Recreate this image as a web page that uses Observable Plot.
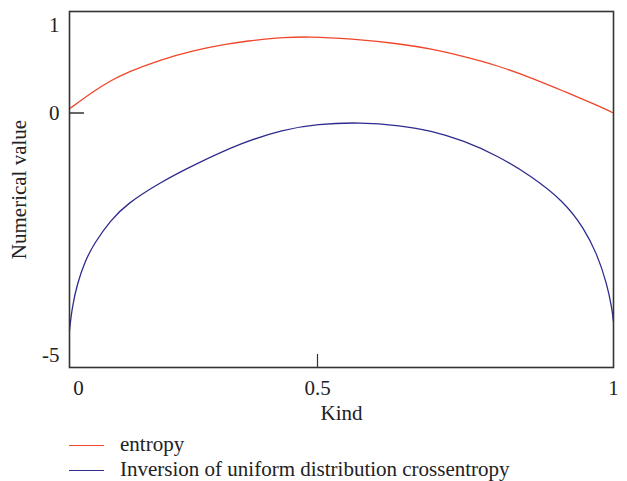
<!DOCTYPE html>
<html><head><meta charset="utf-8">
<script src="https://cdn.jsdelivr.net/npm/d3@7"></script>
<script src="https://cdn.jsdelivr.net/npm/@observablehq/plot@0.6"></script>
<style>
html,body{margin:0;background:#fff;font-family:"Liberation Serif",serif;color:#222;overflow:hidden}
#legend{padding-left:69px;padding-top:1px}
.row{display:flex;align-items:center;height:25px;line-height:25px;font-size:21px;white-space:nowrap}
.row .tx{position:relative;top:-1.5px}
.sw{width:35px;height:0;border-top:1.4px solid;margin-right:16px}
</style></head><body>
<div id="chart"></div>
<div id="legend"></div>
<script>
// Series 1: entropy
const entropyKind = [0, 0.049, 0.083, 0.116, 0.183, 0.25, 0.318, 0.365, 0.385, 0.431, 0.48, 0.556, 0.64, 0.691, 0.747, 0.804, 0.86, 0.916, 0.972, 1];
const entropyValue = [0.048, 0.25, 0.369, 0.465, 0.609, 0.715, 0.792, 0.826, 0.840, 0.862, 0.874, 0.850, 0.791, 0.734, 0.646, 0.543, 0.405, 0.25, 0.088, 0];
// Series 2: inversion of uniform distribution crossentropy
const crossKind = [0, 0.0054, 0.0155, 0.032, 0.049, 0.083, 0.116, 0.183, 0.251, 0.345, 0.431, 0.499, 0.573, 0.64, 0.691, 0.747, 0.804, 0.86, 0.916, 0.95, 0.972, 0.989, 0.998, 1];
const crossValue = [-4.48, -4.0, -3.52, -3.04, -2.70, -2.21, -1.87, -1.43, -1.07, -0.62, -0.34, -0.227, -0.19, -0.26, -0.36, -0.57, -0.88, -1.29, -1.82, -2.37, -2.90, -3.52, -4.07, -4.31];
const seriesNames = ["entropy", "Inversion of uniform distribution crossentropy"];
const xTickValues = [0, 0.5, 1];
const yTickValues = [1, 0, -5];

const seriesColors = ["#f0462a", "#2e2b8e"];

const entropyData = entropyKind.map((k, i) => ({kind: k, value: entropyValue[i]}));
const crossData = crossKind.map((k, i) => ({kind: k, value: crossValue[i]}));

// The original axes are piecewise: the left half (0..0.5) is narrower than the right half,
// and the negative part of the y axis is compressed relative to the positive part.
const xT = v => v <= 0.5 ? v / 0.5 * (248 / 544) : 248 / 544 + (v - 0.5) / 0.5 * (296 / 544);
const yT = v => v >= 0 ? v : v * (48.5 / 87.5);

const W = 627, H = 432;
const frameLeft = 69, frameRight = 613, frameTop = 11, frameBottom = 367;
const fmt = d => String(d);

const chart = Plot.plot({
  width: W, height: H,
  marginLeft: frameLeft, marginRight: W - frameRight, marginTop: frameTop, marginBottom: H - frameBottom,
  style: {fontFamily: '"Liberation Serif", serif', fontSize: "21px", color: "#222", background: "#fff"},
  x: {type: "linear", transform: xT, domain: [0, 1]},
  y: {type: "linear", transform: yT, domain: [-2.9086, 1.16]},
  marks: [
    Plot.line(entropyData, {x: "kind", y: "value", stroke: seriesColors[0], strokeWidth: 1.3, curve: "basis"}),
    Plot.line(crossData, {x: "kind", y: "value", stroke: seriesColors[1], strokeWidth: 1.3, curve: "basis"}),
    Plot.frame({stroke: "#333", strokeWidth: 1.6}),
    Plot.axisY([0], {tickSize: -15, tickFormat: () => "", label: null, stroke: "#333", strokeWidth: 1.5}),
    Plot.axisY(yTickValues, {tickSize: 0, tickPadding: 10, tickFormat: fmt, label: "Numerical value", labelAnchor: "center", labelOffset: 58, labelArrow: "none"}),
    Plot.axisX([0.5], {tickSize: -13, tickFormat: () => "", label: null, stroke: "#333", strokeWidth: 1.2}),
    Plot.axisX([0.5, 1], {tickSize: 0, tickPadding: 13, tickFormat: fmt, label: "Kind", labelAnchor: "center", labelOffset: 52, labelArrow: "none"}),
    Plot.axisX([0], {tickSize: 0, tickPadding: 13, tickFormat: fmt, label: null, dx: 9})
  ]
});
document.getElementById("chart").appendChild(chart);

const legend = document.getElementById("legend");
seriesNames.forEach((name, i) => {
  const row = document.createElement("div");
  row.className = "row";
  const sw = document.createElement("span");
  sw.className = "sw";
  sw.style.borderColor = seriesColors[i];
  const tx = document.createElement("span");
  tx.className = "tx";
  tx.textContent = name;
  row.appendChild(sw); row.appendChild(tx);
  legend.appendChild(row);
});
</script>
</body></html>
